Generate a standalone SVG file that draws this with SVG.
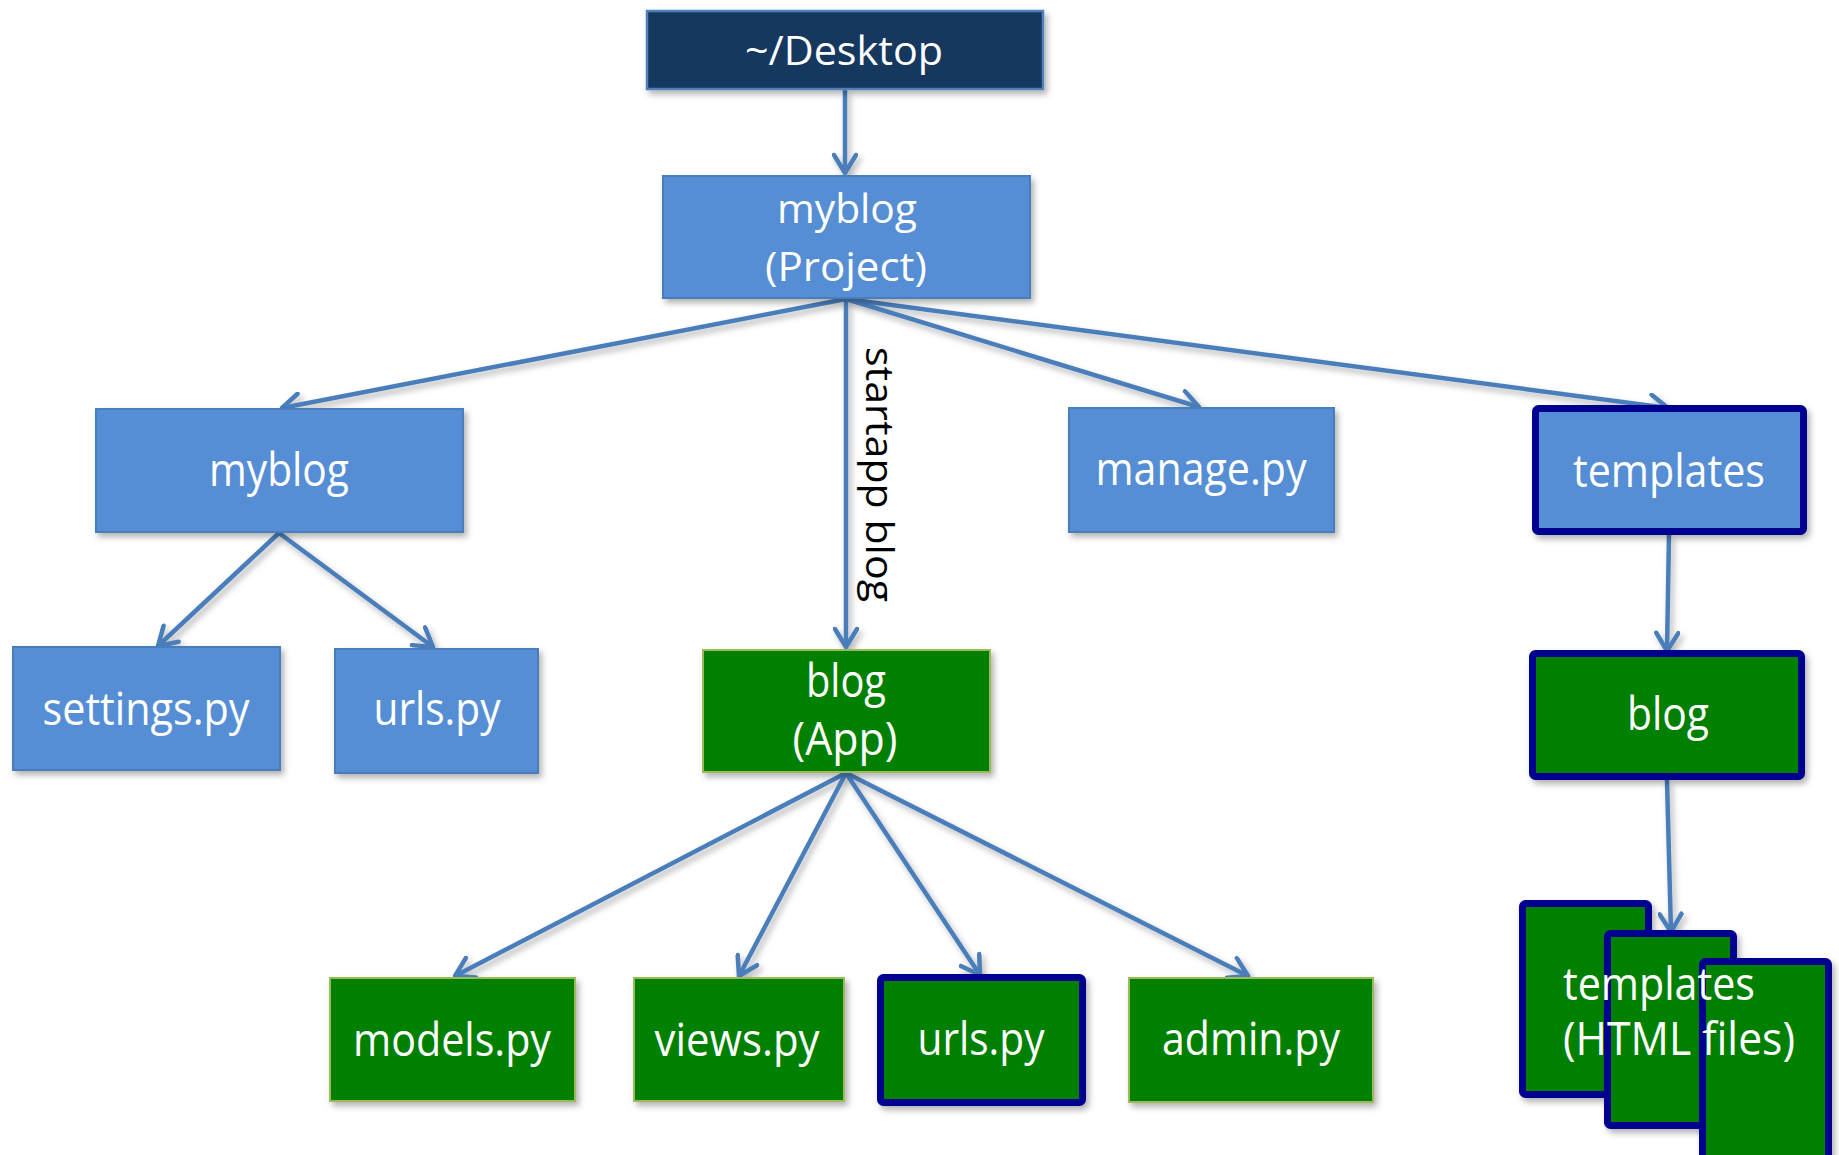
<svg xmlns="http://www.w3.org/2000/svg" width="1839" height="1155" viewBox="0 0 1839 1155">
<defs>
<filter id="sh" x="-10%" y="-10%" width="130%" height="130%">
<feDropShadow dx="3" dy="4" stdDeviation="3" flood-color="#000" flood-opacity="0.3"/>
</filter>
<marker id="ah" viewBox="-22 -13 26 26" refX="0" refY="0" markerWidth="26" markerHeight="26" markerUnits="userSpaceOnUse" orient="auto">
<path d="M-18,-11 L0,0 L-18,11" fill="none" stroke="#4A7EBB" stroke-width="4.5" stroke-linecap="round" stroke-linejoin="round"/>
</marker>
</defs>
<style>
.blue{fill:#558ED5;stroke:#4A7EBB;stroke-width:2}
.navy{fill:#17375E;stroke:#4F81BD;stroke-width:2.5}
.green{fill:#008000;stroke:#9BBB59;stroke-width:2}
.bblue{fill:#558ED5;stroke:#000090;stroke-width:7}
.bgreen{fill:#008000;stroke:#000090;stroke-width:7}
.lbl{font-family:"Open Sans","Noto Sans",sans-serif;font-size:45px;fill:#FFFFFF;text-anchor:middle}
.conn line{stroke:#4A7EBB;stroke-width:4.5;fill:none;marker-end:url(#ah)}
</style>
<rect width="1839" height="1155" fill="#FFFFFF"/>

<g class="conn" id="connectors" filter="url(#sh)">
<line x1="845" y1="90" x2="845" y2="173"/>
<line x1="846" y1="299" x2="282" y2="408"/>
<line x1="846" y1="299" x2="846" y2="647"/>
<line x1="846" y1="299" x2="1199" y2="407"/>
<line x1="846" y1="299" x2="1668" y2="408"/>
<line x1="279" y1="533" x2="158" y2="646"/>
<line x1="279" y1="533" x2="433" y2="647"/>
<line x1="846" y1="773" x2="455" y2="976"/>
<line x1="846" y1="773" x2="739" y2="976"/>
<line x1="846" y1="773" x2="980" y2="975"/>
<line x1="846" y1="773" x2="1248" y2="976"/>
<line x1="1669" y1="535" x2="1667" y2="651"/>
<line x1="1667" y1="780" x2="1671" y2="932"/>
</g>

<g id="edge-label">
<text x="0" y="0" transform="translate(866,347) rotate(90)" font-family="'Open Sans','Noto Sans',sans-serif" font-size="39" fill="#000000" textLength="255" lengthAdjust="spacingAndGlyphs">startapp blog</text>
</g>

<g id="desktop">
<rect class="navy" x="647" y="11" width="396" height="78" filter="url(#sh)"/>
<text class="lbl" x="844" y="65" style="font-size:40px" textLength="198" lengthAdjust="spacingAndGlyphs">~/Desktop</text>
</g>

<g id="project">
<rect class="blue" x="663" y="176" width="367" height="122" filter="url(#sh)"/>
<text class="lbl" x="847" y="223" style="font-size:41px" textLength="140" lengthAdjust="spacingAndGlyphs">myblog</text>
<text class="lbl" x="846" y="281" style="font-size:41px" textLength="162" lengthAdjust="spacingAndGlyphs">(Project)</text>
</g>

<g id="myblog-inner">
<rect class="blue" x="96" y="409" width="367" height="123" filter="url(#sh)"/>
<text class="lbl" x="279" y="486" textLength="140" lengthAdjust="spacingAndGlyphs">myblog</text>
</g>

<g id="settings">
<rect class="blue" x="13" y="647" width="267" height="123" filter="url(#sh)"/>
<text class="lbl" x="146" y="725" textLength="207" lengthAdjust="spacingAndGlyphs">settings.py</text>
</g>

<g id="urls-project">
<rect class="blue" x="335" y="649" width="203" height="124" filter="url(#sh)"/>
<text class="lbl" x="437" y="725" textLength="127" lengthAdjust="spacingAndGlyphs">urls.py</text>
</g>

<g id="manage">
<rect class="blue" x="1069" y="408" width="265" height="124" filter="url(#sh)"/>
<text class="lbl" x="1201" y="485" textLength="211" lengthAdjust="spacingAndGlyphs">manage.py</text>
</g>

<g id="templates">
<rect class="bblue" x="1535.5" y="408.5" width="268" height="123" rx="3" filter="url(#sh)"/>
<text class="lbl" x="1669" y="487" textLength="192" lengthAdjust="spacingAndGlyphs">templates</text>
</g>

<g id="blog-app">
<rect class="green" x="703" y="650" width="287" height="122" filter="url(#sh)"/>
<text class="lbl" x="846" y="697" textLength="80" lengthAdjust="spacingAndGlyphs">blog</text>
<text class="lbl" x="845" y="755" textLength="105" lengthAdjust="spacingAndGlyphs">(App)</text>
</g>

<g id="blog-templates">
<rect class="bgreen" x="1532.5" y="653.5" width="269" height="123" rx="3" filter="url(#sh)"/>
<text class="lbl" x="1668" y="730" textLength="82" lengthAdjust="spacingAndGlyphs">blog</text>
</g>

<g id="models">
<rect class="green" x="330" y="978" width="245" height="123" filter="url(#sh)"/>
<text class="lbl" x="452" y="1056" textLength="198" lengthAdjust="spacingAndGlyphs">models.py</text>
</g>

<g id="views">
<rect class="green" x="634" y="978" width="210" height="123" filter="url(#sh)"/>
<text class="lbl" x="737" y="1056" textLength="165" lengthAdjust="spacingAndGlyphs">views.py</text>
</g>

<g id="urls-app">
<rect class="bgreen" x="880.5" y="977.5" width="202" height="125" rx="3" filter="url(#sh)"/>
<text class="lbl" x="981" y="1055" textLength="127" lengthAdjust="spacingAndGlyphs">urls.py</text>
</g>

<g id="admin">
<rect class="green" x="1129" y="978" width="244" height="124" filter="url(#sh)"/>
<text class="lbl" x="1251" y="1055" textLength="178" lengthAdjust="spacingAndGlyphs">admin.py</text>
</g>

<g id="html-templates">
<rect class="bgreen" x="1522.5" y="903.5" width="126" height="191" rx="3" filter="url(#sh)"/>
<rect class="bgreen" x="1607.5" y="933.5" width="126" height="192" rx="3" filter="url(#sh)"/>
<rect class="bgreen" x="1702.5" y="961.5" width="126" height="205" rx="3" filter="url(#sh)"/>
<text class="lbl" x="1563" y="1000" style="text-anchor:start" textLength="192" lengthAdjust="spacingAndGlyphs">templates</text>
<text class="lbl" x="1563" y="1055" style="text-anchor:start" textLength="232" lengthAdjust="spacingAndGlyphs">(HTML files)</text>
</g>
</svg>
